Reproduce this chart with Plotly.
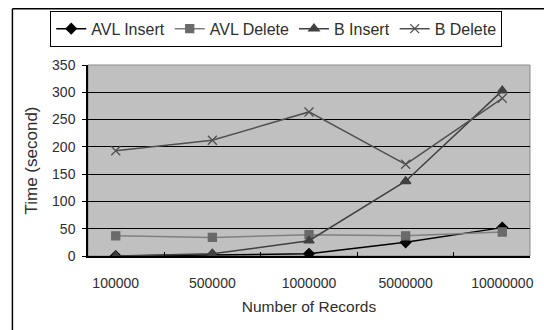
import plotly.graph_objects as go

# Record counts (category labels) and timings in seconds
records = ["100000", "500000", "1000000", "5000000", "10000000"]
avl_insert = [0, 2, 4, 25, 52]
avl_delete = [37, 34, 39, 37, 44]
b_insert = [0, 4, 28, 137, 303]
b_delete = [193, 212, 264, 168, 289]
y_ticks = [0, 50, 100, 150, 200, 250, 300, 350]

FONT = "Liberation Sans, Arial, sans-serif"
TEXT = "#2e2e2e"

fig = go.Figure()

series = [
    ("AVL Insert", avl_insert, "#000000", "#000000", "diamond", 8),
    ("AVL Delete", avl_delete, "#808080", "#6a6a6a", "square", 8),
    ("B Insert", b_insert, "#404040", "#404040", "triangle-up", 9),
    ("B Delete", b_delete, "#505050", "#505050", "x-thin-open", 9),
]
for name, vals, lc, mc, sym, sz in series:
    fig.add_trace(go.Scatter(
        x=records, y=vals, name=name, mode="lines+markers",
        line=dict(color=lc, width=1.5),
        marker=dict(symbol=sym, size=sz, color=mc,
                    line=dict(color=mc, width=1.3)),
    ))

fig.update_layout(
    width=544, height=330,
    margin=dict(l=88, r=11, t=62, b=74),
    paper_bgcolor="white",
    plot_bgcolor="#c0c0c0",
    font=dict(family=FONT, size=15, color=TEXT),
    showlegend=True,
    legend=dict(
        orientation="h", x=-0.0854, xanchor="left", y=1.284, yanchor="top",
        bordercolor="#000000", borderwidth=1, bgcolor="white",
        font=dict(family=FONT, size=16, color=TEXT),
        itemwidth=30, tracegroupgap=0,
    ),
    shapes=[
        # plot frame (light) under the black axis lines
        dict(type="rect", xref="paper", yref="paper", x0=0, x1=1, y0=0, y1=1,
             line=dict(color="#8a8a8a", width=1), layer="below"),
        # outer chart border: left and top edges
        dict(type="line", xref="paper", yref="paper", x0=-0.171, x1=-0.171,
             y0=-0.5, y1=1.294, line=dict(color="#000000", width=1.5)),
        dict(type="line", xref="paper", yref="paper", x0=-0.171, x1=1.1,
             y0=1.294, y1=1.294, line=dict(color="#000000", width=1.5)),
    ],
)

fig.update_xaxes(
    type="category", tickson="boundaries", ticks="inside", ticklen=4,
    tickcolor="#000000", showline=True, linecolor="#000000", linewidth=1.5,
    showgrid=False, tickfont=dict(family=FONT, size=14, color=TEXT),
    ticklabelstandoff=13,
    title=dict(text="Number of Records", font=dict(size=15.5), standoff=12),
)
fig.update_yaxes(
    range=[0, 350], tickvals=y_ticks, ticks="outside", ticklen=4,
    tickcolor="#000000", showline=True, linecolor="#000000", linewidth=1.5,
    showgrid=True, gridcolor="#000000", gridwidth=1, zeroline=False,
    tickfont=dict(family=FONT, size=14, color=TEXT),
    ticklabelstandoff=4,
    title=dict(text="Time (second)", font=dict(size=17), standoff=10),
)

fig.write_html("out.html")
